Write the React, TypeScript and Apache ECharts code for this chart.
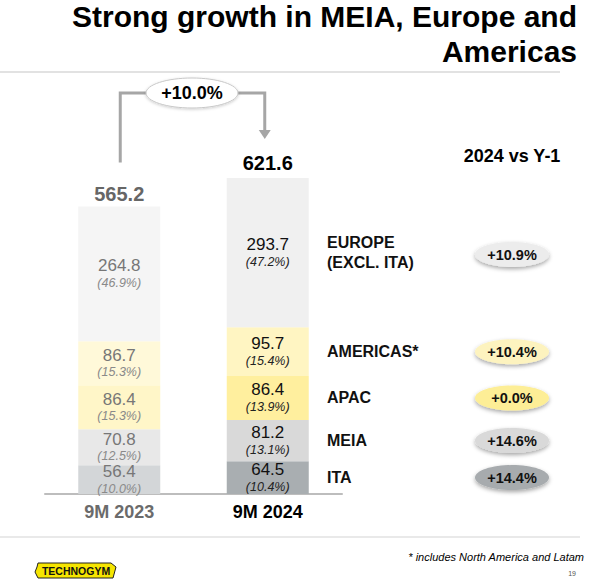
import React, { useEffect, useRef } from "react";
import * as echarts from "echarts";

const categories = ["9M 2023", "9M 2024"];
const regions = ["ITA", "MEIA", "APAC", "AMERICAS*", "EUROPE\n(EXCL. ITA)"];
const values2023 = [56.4, 70.8, 86.4, 86.7, 264.8];
const values2024 = [64.5, 81.2, 86.4, 95.7, 293.7];
const pct2023 = ["10.0%", "12.5%", "15.3%", "15.3%", "46.9%"];
const pct2024 = ["10.4%", "13.1%", "13.9%", "15.4%", "47.2%"];
const totals = ["565.2", "621.6"];
const growth = ["+14.4%", "+14.6%", "+0.0%", "+10.4%", "+10.9%"];
const totalGrowth = "+10.0%";

const colors2023 = ["#d3d6d8", "#e8e8e8", "#fff6c8", "#fff9d9", "#f5f5f5"];
const colors2024 = ["#a9aeb1", "#d9d9d9", "#ffef9e", "#fff5c2", "#f0f0f0"];
const pillColors = ["#a7abae", "#d9d9d9", "#fdee96", "#fdf3bf", "#ececec"];

const FONT = "'Liberation Sans', Arial, sans-serif";

export default function App() {
  const ref = useRef<HTMLDivElement>(null);

  useEffect(() => {
    document.body.style.margin = "0";
    const chart = echarts.init(ref.current!, null, { renderer: "svg" });

    const barSeries = regions.map((r, i) => ({
      name: r,
      type: "bar",
      stack: "total",
      barWidth: 82,
      data: [
        { value: values2023[i], itemStyle: { color: colors2023[i] } },
        { value: values2024[i], itemStyle: { color: colors2024[i] } },
      ],
      label: {
        show: true,
        position: "inside",
        formatter: (p: any) => {
          const k = p.dataIndex === 0 ? "a" : "b";
          const pc = p.dataIndex === 0 ? pct2023[i] : pct2024[i];
          return `{v${k}|${Number(p.value).toFixed(1)}}\n{p${k}|(${pc})}`;
        },
        rich: {
          va: { fontFamily: FONT, fontSize: 17, lineHeight: 18, color: "#777777" },
          pa: { fontFamily: FONT, fontSize: 12.5, fontStyle: "italic", lineHeight: 16, color: "#8a8a8a" },
          vb: { fontFamily: FONT, fontSize: 17, lineHeight: 18, color: "#111111" },
          pb: { fontFamily: FONT, fontSize: 12.5, fontStyle: "italic", lineHeight: 16, color: "#222222" },
        },
      },
    }));

    const totalSeries = {
      name: "total",
      type: "bar",
      stack: "total",
      barWidth: 82,
      data: [
        { value: 0, label: { color: "#666666", distance: 3 } },
        { value: 0, label: { color: "#000000", distance: 5 } },
      ],
      itemStyle: { color: "transparent" },
      label: {
        show: true,
        position: "top",
        fontFamily: FONT,
        fontSize: 20,
        fontWeight: "bold",
        formatter: (p: any) => totals[p.dataIndex],
      },
    };

    const option: any = {
      animation: false,
      grid: { left: 45, width: 297, top: 138, bottom: 88 },
      xAxis: {
        type: "category",
        data: categories,
        axisLine: { show: true, lineStyle: { color: "#bdbdbd", width: 2 } },
        axisTick: { show: false },
        axisLabel: {
          margin: 9,
          formatter: (v: string, i: number) => (i === 0 ? `{a|${v}}` : `{b|${v}}`),
          rich: {
            a: { fontFamily: FONT, fontSize: 18, fontWeight: "bold", color: "#6b6b6b", lineHeight: 18 },
            b: { fontFamily: FONT, fontSize: 18, fontWeight: "bold", color: "#000000", lineHeight: 18 },
          },
        },
      },
      yAxis: {
        type: "value",
        min: 0,
        max: 700,
        show: false,
        splitLine: { show: false },
      },
      series: [...barSeries, totalSeries],
    };
    chart.setOption(option);

    const px = (ci: number, v: number) => chart.convertToPixel({ gridIndex: 0 }, [ci, v]) as number[];
    const top0 = px(0, values2023.reduce((a, b) => a + b, 0));
    const top1 = px(1, values2024.reduce((a, b) => a + b, 0));
    const hY = 93;
    const lx = top0[0] + 1;
    const rx = top1[0] - 3;
    const arrowTip = top1[1] - 39;

    const graphics: any[] = [];
    graphics.push({
      type: "text",
      x: 577,
      y: 34,
      style: {
        text: "Strong growth in MEIA, Europe and\nAmericas",
        fontFamily: FONT,
        fontSize: 30,
        fontWeight: "bold",
        fill: "#000",
        align: "right",
        verticalAlign: "middle",
        lineHeight: 35,
      },
    });
    graphics.push({ type: "line", shape: { x1: 0, y1: 72, x2: 560, y2: 72 }, style: { stroke: "#e2e2e2", lineWidth: 2 } });

    graphics.push({
      type: "polyline",
      shape: { points: [[lx, top0[1] - 44], [lx, hY], [rx, hY], [rx, arrowTip - 8]] },
      style: { stroke: "#a6a6a6", lineWidth: 3, fill: null },
    });
    graphics.push({
      type: "polygon",
      shape: { points: [[rx - 6, arrowTip - 9], [rx + 6, arrowTip - 9], [rx, arrowTip]] },
      style: { fill: "#a6a6a6" },
    });
    graphics.push({
      type: "ellipse",
      shape: { cx: 192, cy: hY, rx: 46, ry: 15 },
      style: { fill: "#ffffff", stroke: "#c8c8c8", lineWidth: 1, shadowBlur: 3, shadowOffsetY: 1, shadowColor: "rgba(0,0,0,0.2)" },
    });
    graphics.push({
      type: "text",
      x: 192,
      y: hY,
      style: { text: totalGrowth, fontFamily: FONT, fontSize: 18, fontWeight: "bold", fill: "#000", align: "center", verticalAlign: "middle" },
    });

    graphics.push({
      type: "text",
      x: 512,
      y: 156,
      style: { text: "2024 vs Y-1", fontFamily: FONT, fontSize: 18, fontWeight: "bold", fill: "#000", align: "center", verticalAlign: "middle" },
    });
    graphics.push({
      type: "line",
      shape: { x1: 461, y1: 172, x2: 564, y2: 172 },
      style: { stroke: "#a3a3a3", lineWidth: 4, shadowBlur: 3, shadowOffsetY: 1, shadowColor: "rgba(0,0,0,0.25)" },
    });

    let cum = 0;
    regions.forEach((r, i) => {
      const mid = cum + values2024[i] / 2;
      cum += values2024[i];
      const y = px(1, mid)[1];
      graphics.push({
        type: "text",
        x: 327,
        y: y,
        style: { text: r, fontFamily: FONT, fontSize: 16, fontWeight: "bold", fill: "#111", align: "left", verticalAlign: "middle", lineHeight: 20 },
      });
      const py = i === 4 ? y + 2 : y;
      graphics.push({
        type: "ellipse",
        shape: { cx: 512, cy: py, rx: 37, ry: 12.5 },
        style: { fill: pillColors[i], shadowBlur: 4, shadowOffsetY: 2, shadowColor: "rgba(0,0,0,0.35)" },
      });
      graphics.push({
        type: "text",
        x: 512,
        y: py,
        style: { text: growth[i], fontFamily: FONT, fontSize: 14.5, fontWeight: "bold", fill: "#111", align: "center", verticalAlign: "middle" },
      });
    });

    graphics.push({ type: "line", shape: { x1: 0, y1: 537, x2: 580, y2: 537 }, style: { stroke: "#e2e2e2", lineWidth: 1.5 } });
    graphics.push({
      type: "text",
      x: 584,
      y: 557,
      style: { text: "* includes North America and Latam", fontFamily: FONT, fontSize: 11, fontStyle: "italic", fill: "#000", align: "right", verticalAlign: "middle" },
    });
    graphics.push({
      type: "text",
      x: 576,
      y: 573,
      style: { text: "19", fontFamily: FONT, fontSize: 7, fill: "#555", align: "right", verticalAlign: "middle" },
    });
    graphics.push({
      type: "polygon",
      shape: { points: [[38, 563], [111, 563], [116, 567], [113, 578], [38, 578], [35, 572], [37, 567]] },
      style: { fill: "#f6e500", stroke: "#222", lineWidth: 1 },
    });
    graphics.push({
      type: "text",
      x: 76,
      y: 571,
      style: { text: "TECHNOGYM", fontFamily: FONT, fontSize: 10.5, fontWeight: "bold", fill: "#111", align: "center", verticalAlign: "middle" },
    });

    chart.setOption({ graphic: graphics });

    return () => chart.dispose();
  }, []);

  return <div ref={ref} style={{ width: 602, height: 582 }} />;
}
